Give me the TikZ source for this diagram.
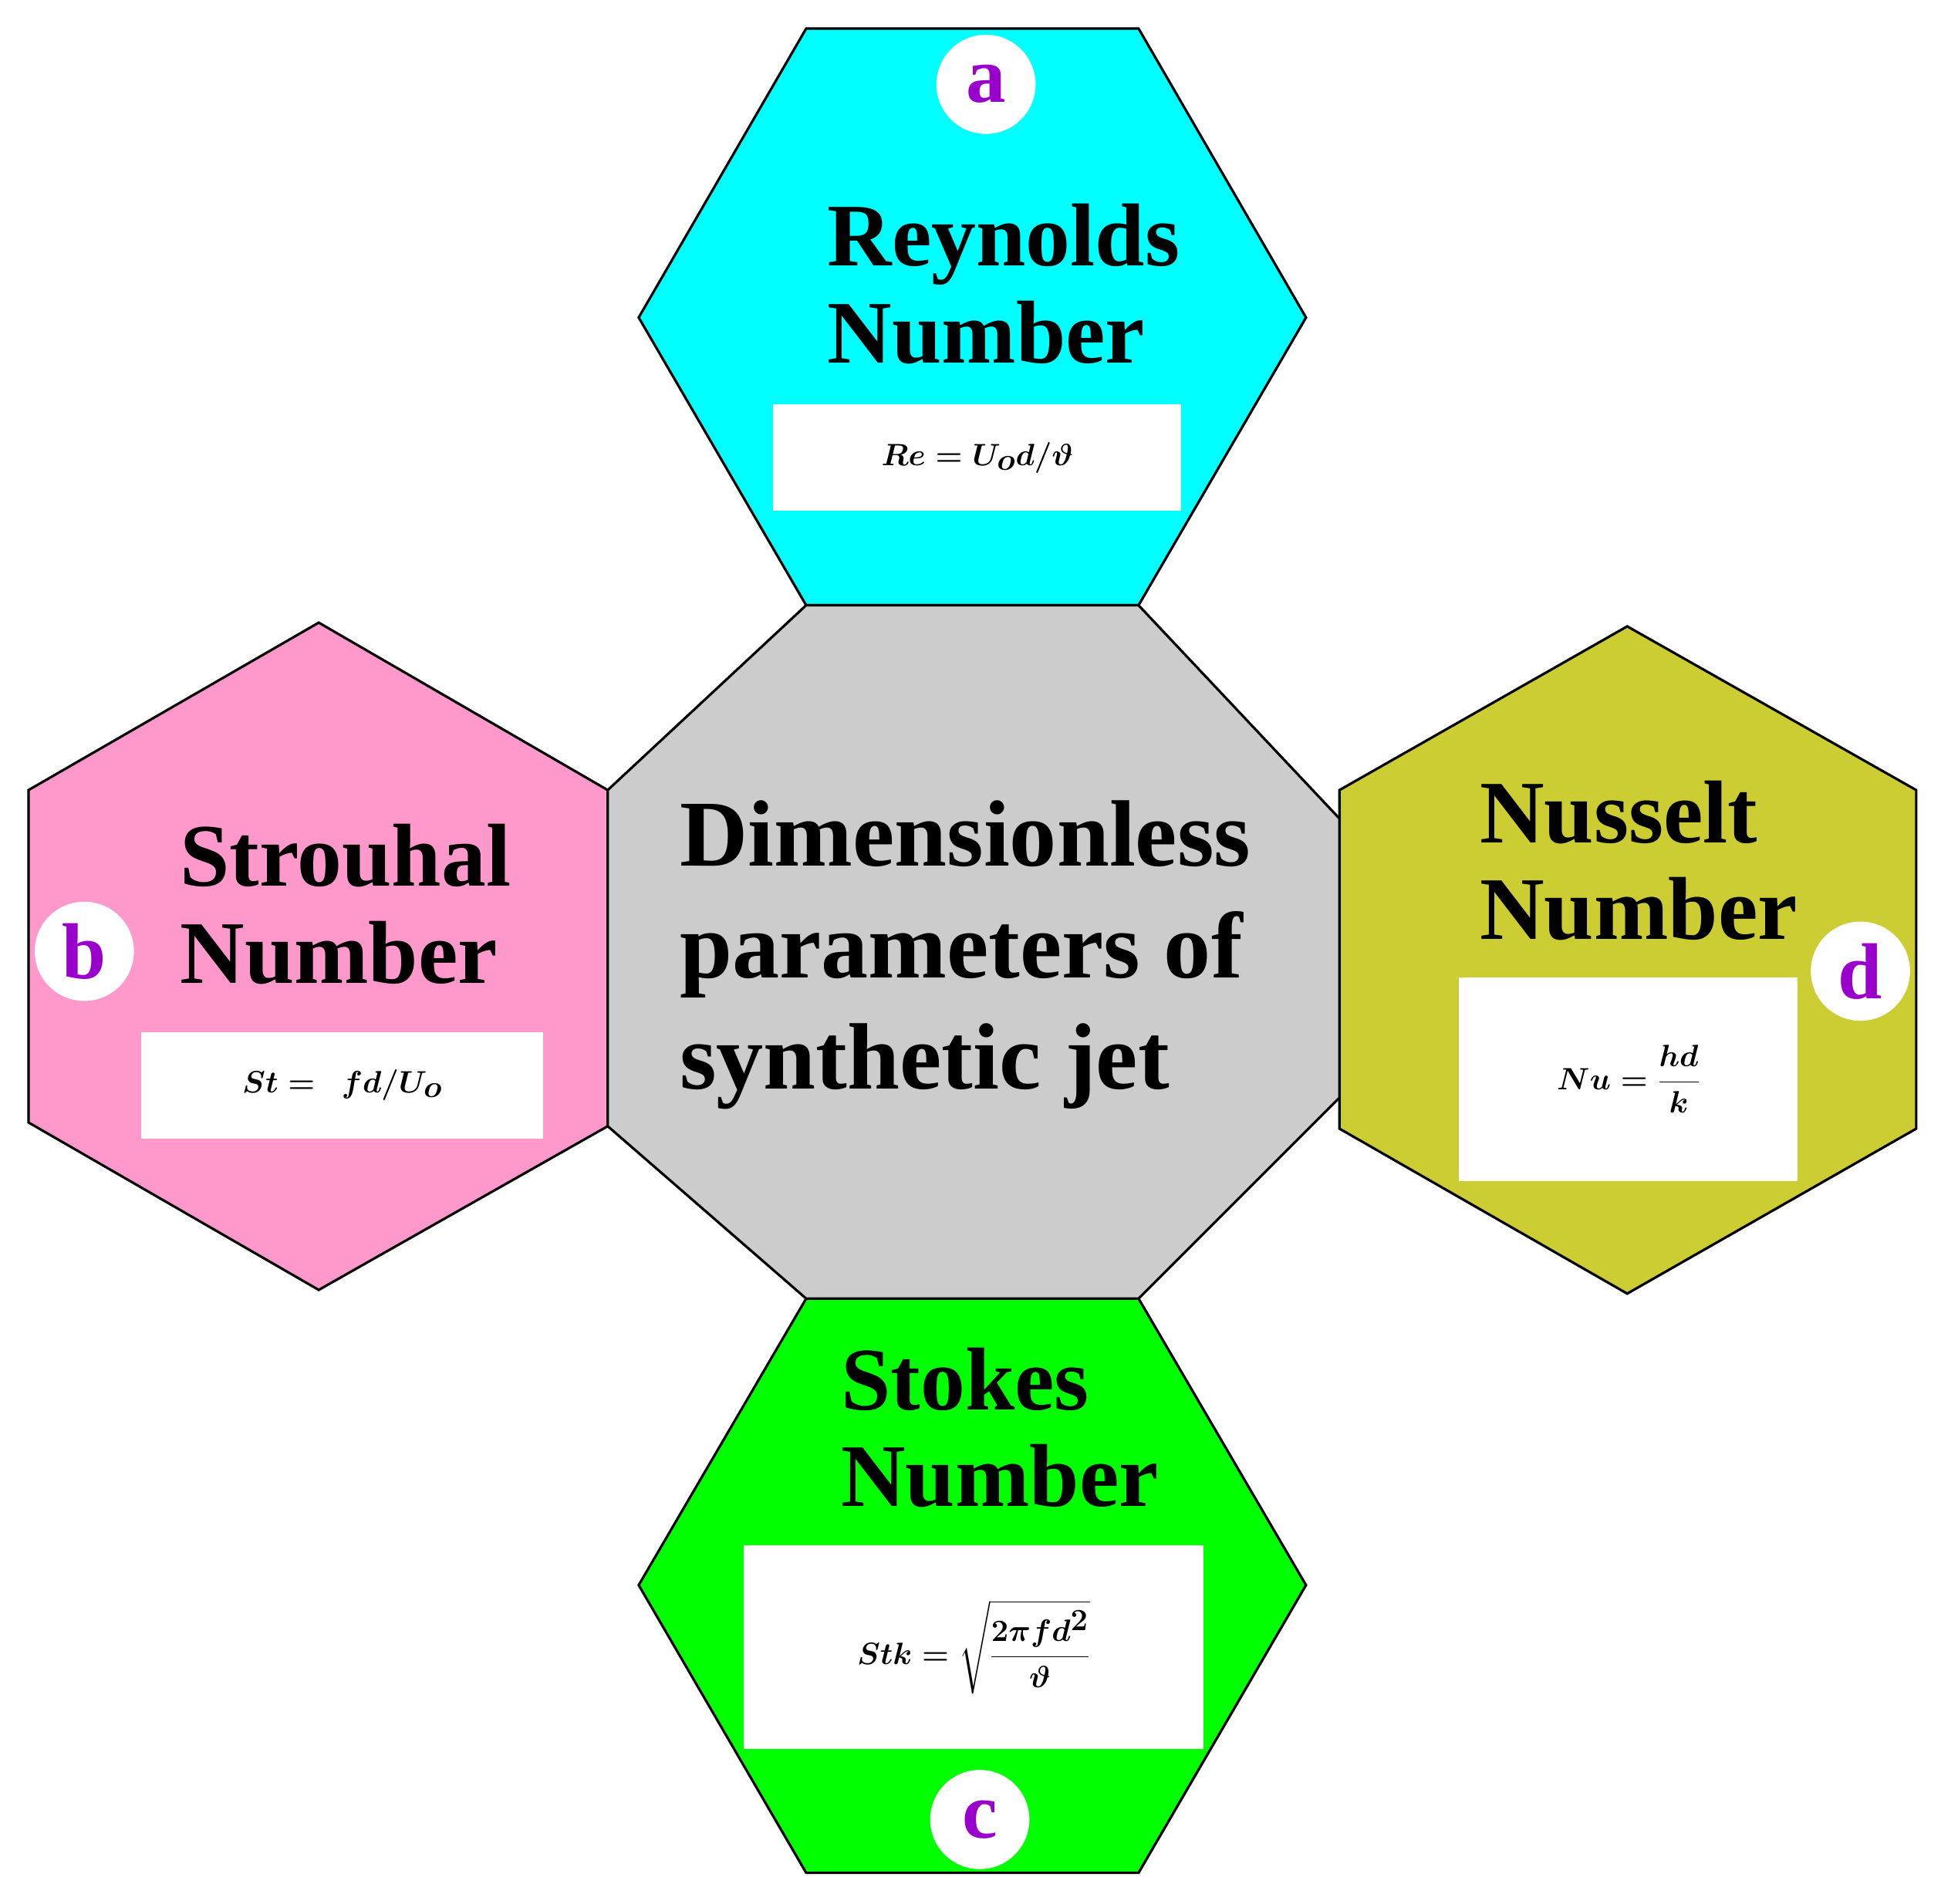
\documentclass[tikz,border=0pt]{standalone}
\usepackage{amsmath}
\usepackage{fontspec}
\setmainfont{Liberation Serif}
\definecolor{cy}{RGB}{0,255,255}
\definecolor{pk}{RGB}{255,153,204}
\definecolor{ol}{RGB}{204,204,51}
\definecolor{gr}{RGB}{0,255,0}
\definecolor{gy}{RGB}{204,204,204}
\definecolor{pu}{RGB}{153,0,204}
\begin{document}
\begin{tikzpicture}[x=1pt,y=-1pt,
  shp/.style={draw=black,line width=2pt},
  lbl/.style={circle,fill=white,minimum size=80pt,inner sep=0pt,text=pu,font=\fontsize{64}{64}\selectfont\bfseries},
  ttl/.style={align=left,anchor=west,inner sep=0pt,font=\fontsize{72}{78}\selectfont\bfseries},
  wbox/.style={fill=white,inner sep=0pt,font=\fontsize{54}{60}\selectfont\boldmath}]
\useasboundingbox (0,0) rectangle (1565,1535);
\fill[white] (0,0) rectangle (1565,1535);
\draw[shp,fill=cy] (650,23)--(918,23)--(1053,256)--(918,488)--(650,488)--(515,256)--cycle;
\draw[shp,fill=pk] (257,502)--(490,637)--(490,908)--(257,1040)--(23,905)--(23,637)--cycle;
\draw[shp,fill=ol] (1312,505)--(1545,637)--(1545,910)--(1312,1043)--(1080,910)--(1080,637)--cycle;
\draw[shp,fill=gr] (650,1047)--(918,1047)--(1053,1278)--(918,1510)--(650,1510)--(515,1278)--cycle;
\draw[shp,fill=gy] (650,488)--(918,488)--(1080,660)--(1080,885)--(918,1047)--(650,1047)--(490,908)--(490,637)--cycle;

\node[ttl] (re) at (667,229) {Reynolds\\Number};
\node[ttl] (st) at (145,729) {Strouhal\\Number};
\node[ttl] (nu) at (1193,694) {Nusselt\\Number};
\node[ttl] (sk) at (678,1151) {Stokes\\Number};
\node[ttl,font=\fontsize{76}{90}\selectfont\bfseries] (dm) at (548,770) {Dimensionless\\parameters of\\synthetic jet};

\node[wbox,minimum width=329pt,minimum height=86pt] (ree) at (788,369) {$Re = U_o d/\vartheta$};
\node[wbox,minimum width=324pt,minimum height=86pt] (ste) at (276,875) {$St =\ f d/U_o$};
\node[wbox,minimum width=273pt,minimum height=164pt] (nue) at (1313,870) {$Nu = \dfrac{hd}{k}$};
\node[wbox,minimum width=371pt,minimum height=164pt] (ske) at (785,1328) {$Stk = \sqrt{\dfrac{2\pi f d^2}{\vartheta}}$};

\node[lbl] (a) at (795,68) {a};
\node[lbl] (b) at (68,767) {b};
\node[lbl] (c) at (790,1467) {c};
\node[lbl] (d) at (1500,783) {d};
\end{tikzpicture}
\end{document}
